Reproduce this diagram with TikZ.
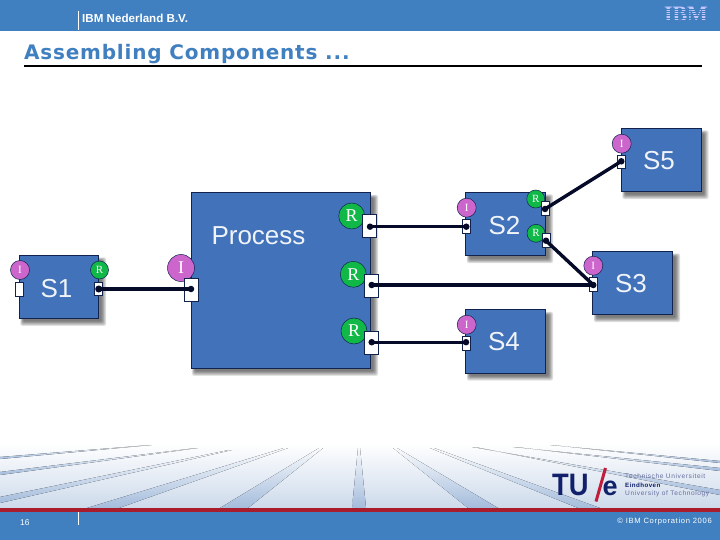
\documentclass[tikz,border=0pt]{standalone}
\usepackage{fontspec}
\setmainfont{Liberation Sans}
\newfontfamily\serf{Liberation Serif}
\newfontfamily\titlef[LetterSpace=4]{DejaVu Sans Bold}
\newfontfamily\spf[LetterSpace=9]{Liberation Sans}
\newfontfamily\spfb[LetterSpace=7]{Liberation Sans Bold}
\definecolor{hdr}{HTML}{4080C0}
\definecolor{boxblue}{HTML}{4272BA}
\definecolor{boxedge}{HTML}{12224E}
\definecolor{ifpurple}{HTML}{CC66CC}
\definecolor{rqgreen}{HTML}{10B848}
\definecolor{wire}{HTML}{050A28}
\definecolor{redline}{HTML}{A81C2C}
\definecolor{navy}{HTML}{10206A}
\definecolor{logored}{HTML}{C01C3C}
\definecolor{streak}{HTML}{A4BCDC}
\definecolor{pale}{HTML}{CDDAEB}
\tikzset{
  compbox/.style={draw=boxedge,line width=0.9pt,fill=boxblue,inner sep=0pt,outer sep=0pt,anchor=north west},
  complabel/.style={text=white!92!boxblue,font=\fontsize{26}{26}\selectfont,inner sep=0pt},
  iface/.style={circle,draw=boxedge,line width=0.5pt,fill=ifpurple,text=white,inner sep=0pt,font=\serf\fontsize{11}{11}\selectfont},
  rcirc/.style={iface,fill=rqgreen},
  bigc/.style={font=\serf\fontsize{18}{18}\selectfont},
  portbox/.style={draw=boxedge,line width=0.5pt,fill=white,inner sep=0pt},
  pin/.style={circle,fill=wire,inner sep=0pt},
  wirel/.style={draw=wire,line cap=round,line width=#1},
  smallw/.style={text=white,font=\fontsize{#1}{#1}\selectfont,inner sep=0pt},
  logot/.style={text=navy!65!white,font=\spf\fontsize{6.6}{6.6}\selectfont,inner sep=0pt,anchor=west},
  strk/.style={top color=white!88!pale,bottom color=streak,draw=none}
}
\newcommand{\softshadow}[4]{%
  \foreach \k in {0,1,2,3,4,5}{
    \fill[black,opacity=0.11,rounded corners=1.5pt]
      ({#1+1+\k*0.6},{#2+2+\k*0.6}) rectangle ({#3+7.5-\k*0.9},{#4+7.5-\k*0.9});
  }}
\begin{document}
\begin{tikzpicture}[x=1pt,y=-1pt]
\useasboundingbox (0,0) rectangle (720,540);
\fill[white] (0,0) rectangle (720,540);
% header
\fill[hdr] (0,0) rectangle (720,31);
\draw[white,line width=0.7pt] (78.5,11) -- (78.5,30);
\node[smallw=11.6,anchor=west,font=\bfseries\fontsize{11.6}{11.6}\selectfont] (hdrtext) at (82,18.5) {IBM Nederland B.V.};
\node[inner sep=0pt,anchor=center,text=white!78!blue,font=\serf\bfseries\fontsize{22}{22}\selectfont] (ibm) at (686,14.5) {IBM};
\foreach \yy in {9,11.2,13.4,15.6,17.8,20}{\draw[hdr,line width=0.35pt] (662,\yy) -- (710,\yy);}
% title
\node[inner sep=0pt,anchor=base west,text=hdr,font=\titlef\fontsize{20}{20}\selectfont] (title) at (24,59.5) {Assembling Components ...};
\draw[black,line width=1.8pt] (24,65.8) -- (702,65.8);
% footer band
\shade[top color=white,bottom color=pale] (0,443) rectangle (720,508);
\fill[strk] (352,508) -- (366,508) -- (360,448) -- (358,448) -- cycle;
\fill[strk] (220,508) -- (248,508) -- (323,448) -- (319,448) -- cycle;
\fill[strk] (87,508) -- (119,508) -- (288,448) -- (284,448) -- cycle;
\fill[strk] (0,497) -- (0,503) -- (232,450) -- (229,450) -- cycle;
\fill[strk] (0,472) -- (0,475) -- (198,448) -- (196,448) -- cycle;
\fill[strk] (0,457) -- (0,459) -- (152,445) -- (150,445) -- cycle;
\fill[strk] (468,508) -- (498,508) -- (397,448) -- (393,448) -- cycle;
\fill[strk] (578,508) -- (600,508) -- (434,448) -- (430,448) -- cycle;
\fill[strk] (720,490) -- (720,495) -- (475,447) -- (472,447) -- cycle;
\fill[strk] (720,468) -- (720,471) -- (516,447) -- (513,447) -- cycle;
\fill[strk] (720,461) -- (720,463) -- (552,445) -- (550,445) -- cycle;
\fill[hdr] (0,511) rectangle (720,540);
\fill[redline] (0,508) rectangle (720,511.5);
\draw[white,line width=0.7pt] (78.5,511.5) -- (78.5,525);
\node[smallw=8.4,anchor=west] (pageno) at (20,522.5) {16};
\node[inner sep=0pt,text=white,font=\spf\fontsize{7.6}{7.6}\selectfont,anchor=east] (copyr) at (712,521.5) {© IBM Corporation 2006};
% TU/e logo
\node[inner sep=0pt,anchor=base west,text=navy,font=\bfseries\fontsize{31}{31}\selectfont,xscale=0.88,transform shape] (tu) at (552,495.5) {TU};
\node[inner sep=0pt,anchor=base west,text=navy,font=\bfseries\fontsize{27}{27}\selectfont] (tue) at (602.5,495.5) {e};
\draw[logored,line width=3pt] (596,501.5) -- (605.5,468);
\node[logot] (lg1) at (625,476) {Technische Universiteit};
\node[logot,text=navy,font=\spfb\fontsize{6.2}{6.2}\selectfont] (lg2) at (625,485) {Eindhoven};
\node[logot] (lg3) at (625,494) {University of Technology};
% shadows
\softshadow{19.4}{255.4}{98.7}{318.4}
\softshadow{191}{192.8}{370.7}{368.3}
\softshadow{465.8}{192.4}{545.7}{255.7}
\softshadow{592.8}{251.4}{672.7}{314.7}
\softshadow{465.8}{309.8}{545.7}{373}
\softshadow{621.3}{128.4}{701}{191.7}
% components
\node[compbox,minimum width=79.3pt,minimum height=63pt] (s1) at (19.4,255.4) {};
\node[compbox,minimum width=179.7pt,minimum height=175.5pt] (proc) at (191,192.8) {};
\node[compbox,minimum width=79.9pt,minimum height=63.3pt] (s2) at (465.8,192.4) {};
\node[compbox,minimum width=79.9pt,minimum height=63.3pt] (s3) at (592.8,251.4) {};
\node[compbox,minimum width=79.9pt,minimum height=63.3pt] (s4) at (465.8,309.8) {};
\node[compbox,minimum width=79.7pt,minimum height=63.3pt] (s5) at (621.3,128.4) {};
\node[complabel] (ls1) at (56.5,288.5) {S1};
\node[complabel] (lproc) at (258.5,235.5) {Process};
\node[complabel] (ls2) at (504.5,225.5) {S2};
\node[complabel] (ls3) at (631,283.5) {S3};
\node[complabel] (ls4) at (504,342) {S4};
\node[complabel] (ls5) at (659,160.5) {S5};
% interface circles
\node[iface,minimum size=19pt] (ci1) at (20,270) {I};
\node[rcirc,minimum size=18pt] (cr1) at (99.5,270) {R};
\node[iface,bigc,minimum size=27pt] (cip) at (181,268) {I};
\node[rcirc,bigc,minimum size=26pt] (crp1) at (351.7,216) {R};
\node[rcirc,bigc,minimum size=26pt] (crp2) at (353.3,274.3) {R};
\node[rcirc,bigc,minimum size=26pt] (crp3) at (354,331) {R};
\node[iface,minimum size=19pt] (ci2) at (466.7,207.7) {I};
\node[rcirc,minimum size=18pt] (cr2a) at (535.7,199) {R};
\node[rcirc,minimum size=18pt] (cr2b) at (536,233.3) {R};
\node[iface,minimum size=19pt] (ci3) at (593.3,265.7) {I};
\node[iface,minimum size=19pt] (ci4) at (466.7,324.7) {I};
\node[iface,minimum size=19pt] (ci5) at (621.7,143.7) {I};
% ports
\node[portbox,minimum width=8pt,minimum height=14pt] (p1l) at (19.5,289) {};
\node[portbox,minimum width=8pt,minimum height=13.5pt] (p1r) at (98.7,288.5) {};
\node[portbox,minimum width=14pt,minimum height=23pt] (ppi) at (191,289.5) {};
\node[portbox,minimum width=14.4pt,minimum height=23pt] (ppr1) at (369.5,225.5) {};
\node[portbox,minimum width=14pt,minimum height=23.3pt] (ppr2) at (371.3,285.4) {};
\node[portbox,minimum width=14pt,minimum height=23pt] (ppr3) at (371.3,342.5) {};
\node[portbox,minimum width=7.7pt,minimum height=14pt] (p2i) at (466.5,226) {};
\node[portbox,minimum width=7.7pt,minimum height=13.6pt] (p2a) at (544.9,208.5) {};
\node[portbox,minimum width=7.7pt,minimum height=13.6pt] (p2b) at (545.9,240.2) {};
\node[portbox,minimum width=8pt,minimum height=14pt] (p3i) at (593.3,284.3) {};
\node[portbox,minimum width=7.7pt,minimum height=13.4pt] (p4i) at (466.5,343.3) {};
\node[portbox,minimum width=8pt,minimum height=13.7pt] (p5i) at (621.3,161.8) {};
% pins
\node[pin,minimum size=7pt] (d1r) at (98.7,289) {};
\node[pin,minimum size=6.5pt] (dpi) at (191,289) {};
\node[pin,minimum size=6.5pt] (dr1) at (370,226.7) {};
\node[pin,minimum size=6.5pt] (d2i) at (466.3,226.7) {};
\node[pin,minimum size=6.5pt] (dr2) at (371.7,285) {};
\node[pin,minimum size=6.5pt] (d3i) at (593.3,285) {};
\node[pin,minimum size=6.5pt] (dr3) at (371.7,342.2) {};
\node[pin,minimum size=6.5pt] (d4i) at (466,342.2) {};
\node[pin,minimum size=6.5pt] (d2a) at (545,209) {};
\node[pin,minimum size=6.5pt] (d2b) at (546,240.7) {};
\node[pin,minimum size=6.5pt] (d5i) at (621.3,161.3) {};
% connectors
\draw[wirel=3.4pt] (d1r.center) -- (dpi.center);
\draw[wirel=2.6pt] (dr1.center) -- (d2i.center);
\draw[wirel=3.4pt] (dr2.center) -- (d3i.center);
\draw[wirel=3pt] (dr3.center) -- (d4i.center);
\draw[wirel=3.4pt] (d2a.center) -- (d5i.center);
\draw[wirel=3.4pt] (d2b.center) -- (d3i.center);
\end{tikzpicture}
\end{document}
